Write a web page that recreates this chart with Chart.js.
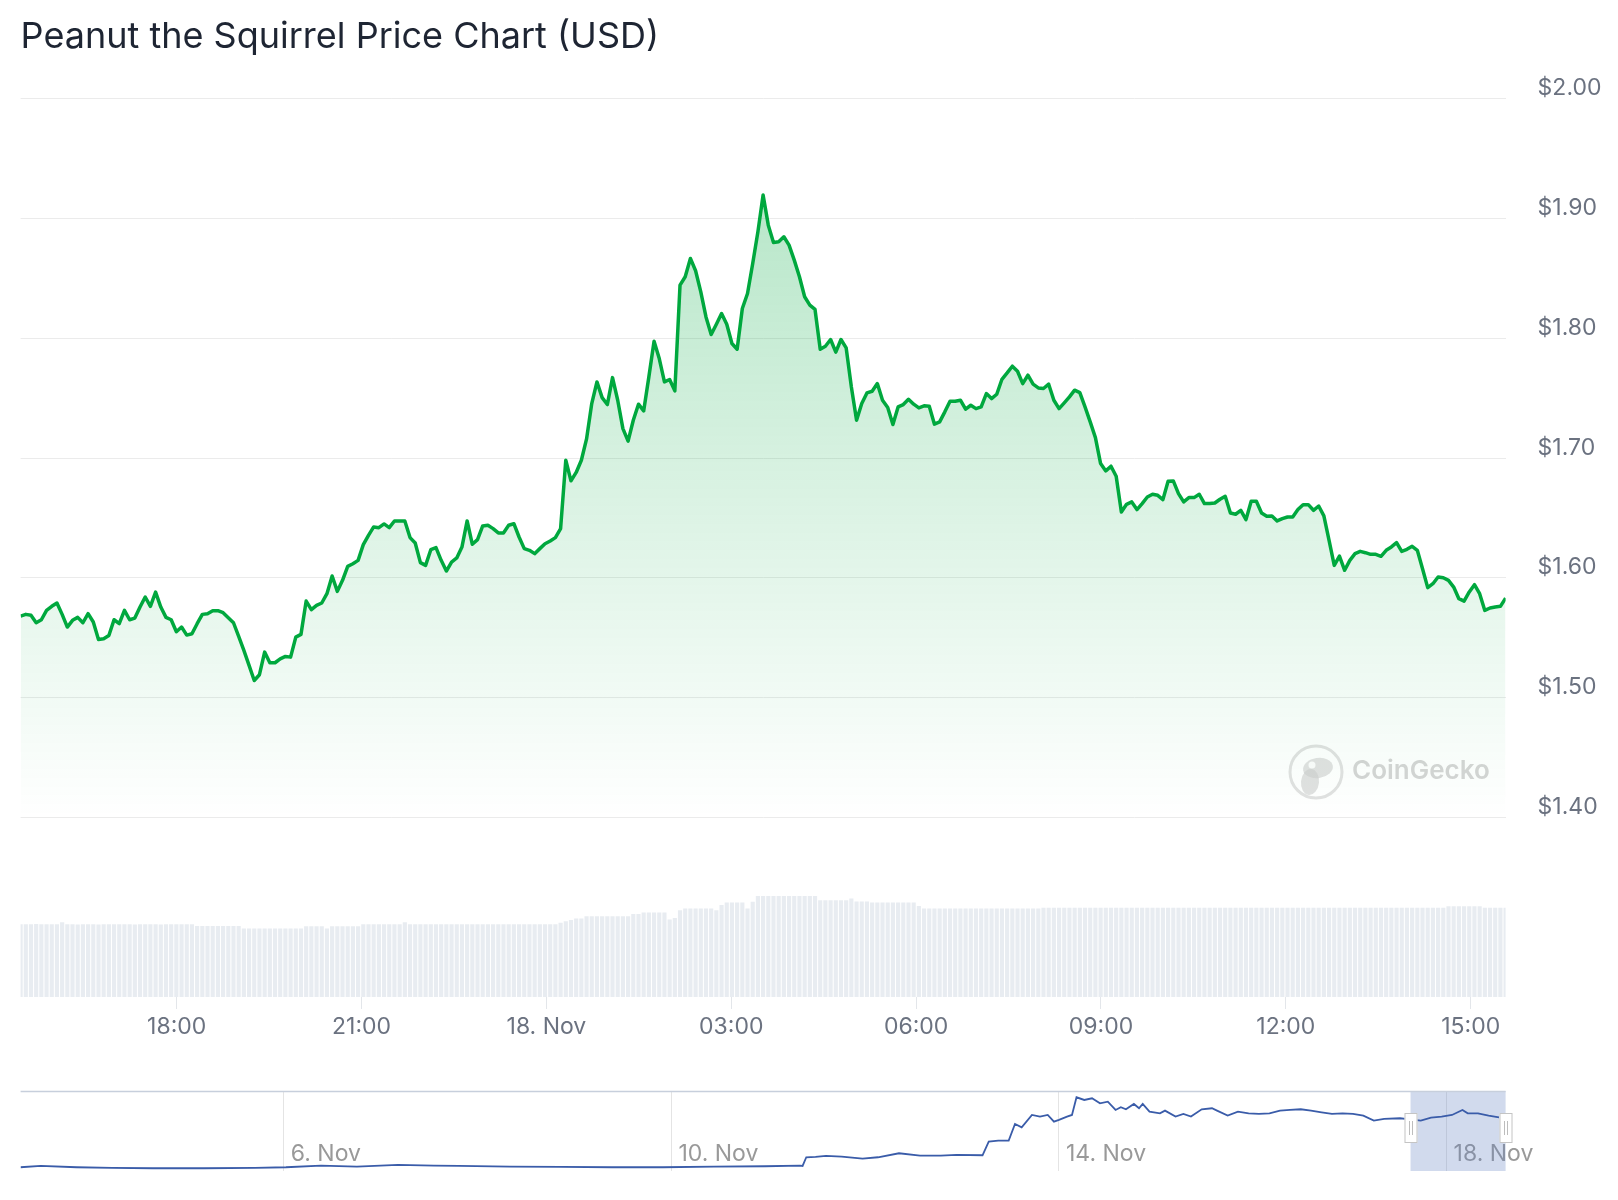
<!DOCTYPE html>
<html>
<head>
<meta charset="utf-8">
<title>Peanut the Squirrel Price Chart (USD)</title>
<script src="https://cdn.jsdelivr.net/npm/chart.js@4.4.1/dist/chart.umd.min.js"></script>
<style>
  html, body { margin: 0; padding: 0; background: #ffffff; }
  #wrap { position: relative; width: 1618px; height: 1200px; overflow: hidden; }
  #main { position: absolute; left: 0; top: 0; }
  #nav { position: absolute; left: 0; top: 1080px; }
</style>
</head>
<body>
<div id="wrap">
  <canvas id="main" width="1618" height="1080"></canvas>
  <canvas id="nav" width="1618" height="120"></canvas>
</div>
<script>
// ---------------- DATA ----------------
const chartTitle = 'Peanut the Squirrel Price Chart (USD)';

// time range of the main chart, minutes since 17 Nov 00:00 (15:28 → next day 15:34)
const startMinute = 928;
const endMinute = 2374;

// price in USD, ~5 minute samples
const prices = [
  1.5681, 1.5695, 1.5687, 1.5625, 1.5650, 1.5728, 1.5762, 1.5790, 1.5695, 1.5589,
  1.5645, 1.5670, 1.5625, 1.5701, 1.5631, 1.5486, 1.5492, 1.5519, 1.5650, 1.5617,
  1.5728, 1.5650, 1.5664, 1.5756, 1.5840, 1.5762, 1.5881, 1.5756, 1.5670, 1.5650,
  1.5550, 1.5589, 1.5522, 1.5533, 1.5617, 1.5695, 1.5701, 1.5726, 1.5726, 1.5709,
  1.5667, 1.5625, 1.5511, 1.5394, 1.5269, 1.5143, 1.5191, 1.5380, 1.5291, 1.5291,
  1.5324, 1.5344, 1.5338, 1.5505, 1.5528, 1.5806, 1.5734, 1.5770, 1.5790, 1.5868,
  1.6015, 1.5887, 1.5979, 1.6096, 1.6118, 1.6146, 1.6277, 1.6355, 1.6425, 1.6419,
  1.6450, 1.6419, 1.6475, 1.6475, 1.6475, 1.6336, 1.6291, 1.6127, 1.6104, 1.6235,
  1.6252, 1.6146, 1.6057, 1.6132, 1.6166, 1.6257, 1.6475, 1.6280, 1.6319, 1.6433,
  1.6439, 1.6411, 1.6375, 1.6375, 1.6439, 1.6452, 1.6341, 1.6244, 1.6230, 1.6202,
  1.6244, 1.6285, 1.6308, 1.6336, 1.6411,
  1.6982, 1.6810, 1.6880, 1.6982, 1.7160, 1.7455, 1.7636, 1.7505, 1.7447, 1.7672,
  1.7483, 1.7246, 1.7141, 1.7316, 1.7450, 1.7394, 1.7678, 1.7976, 1.7831, 1.7636,
  1.7656, 1.7561, 1.8444, 1.8514, 1.8667, 1.8564, 1.8388, 1.8179, 1.8032, 1.8118,
  1.8207, 1.8118, 1.7957, 1.7909, 1.8249, 1.8374, 1.8625, 1.8890, 1.9196, 1.8945,
  1.8801, 1.8806, 1.8848, 1.8778, 1.8653, 1.8514, 1.8347, 1.8277, 1.8241, 1.7909,
  1.7934, 1.7990, 1.7884, 1.7990, 1.7920, 1.7594, 1.7316, 1.7455, 1.7544, 1.7558,
  1.7622, 1.7483, 1.7422, 1.7280, 1.7427, 1.7447, 1.7491, 1.7450, 1.7419, 1.7436,
  1.7433, 1.7283, 1.7302, 1.7386, 1.7475, 1.7475, 1.7483, 1.7408, 1.7441, 1.7413,
  1.7427, 1.7539, 1.7497, 1.7533, 1.7658, 1.7711, 1.7767, 1.7725, 1.7622, 1.7692,
  1.7617, 1.7586, 1.7581, 1.7617, 1.7483, 1.7413, 1.7461, 1.7511, 1.7567, 1.7547,
  1.7427, 1.7302, 1.7171, 1.6954, 1.6893, 1.6932, 1.6848, 1.6550, 1.6614, 1.6634,
  1.6570, 1.6620, 1.6675, 1.6698, 1.6689, 1.6653, 1.6806, 1.6809, 1.6703, 1.6634,
  1.6670, 1.6670, 1.6698, 1.6620, 1.6620, 1.6625, 1.6656, 1.6681, 1.6542, 1.6531,
  1.6564, 1.6486, 1.6639, 1.6639, 1.6542, 1.6514, 1.6517, 1.6475, 1.6494, 1.6508,
  1.6508, 1.6570, 1.6611, 1.6611, 1.6564, 1.6600, 1.6517, 1.6313, 1.6104, 1.6182,
  1.6063, 1.6146, 1.6202, 1.6221, 1.6210, 1.6196, 1.6196, 1.6180, 1.6230, 1.6258,
  1.6294, 1.6221, 1.6238, 1.6263, 1.6230, 1.6076, 1.5918, 1.5951, 1.6007, 1.6001,
  1.5979, 1.5923, 1.5826, 1.5806, 1.5882, 1.5943, 1.5868, 1.5728, 1.5748, 1.5756,
  1.5762, 1.5831
];

// 24h trading volume in billions USD, one per price sample
const volumes = [
  2.43, 2.43, 2.43, 2.44, 2.43, 2.43, 2.43, 2.43, 2.50, 2.43,
  2.43, 2.42, 2.43, 2.43, 2.43, 2.42, 2.43, 2.43, 2.43, 2.43,
  2.43, 2.43, 2.42, 2.43, 2.43, 2.43, 2.43, 2.42, 2.43, 2.43,
  2.43, 2.43, 2.43, 2.43, 2.37, 2.37, 2.37, 2.37, 2.37, 2.37,
  2.37, 2.37, 2.37, 2.29, 2.29, 2.29, 2.29, 2.29, 2.29, 2.29,
  2.29, 2.29, 2.29, 2.29, 2.29, 2.36, 2.36, 2.36, 2.36, 2.29,
  2.36, 2.36, 2.36, 2.36, 2.36, 2.36, 2.43, 2.43, 2.43, 2.43,
  2.43, 2.43, 2.43, 2.43, 2.50, 2.43, 2.43, 2.43, 2.43, 2.43,
  2.43, 2.43, 2.43, 2.43, 2.43, 2.43, 2.43, 2.43, 2.43, 2.43,
  2.43, 2.43, 2.43, 2.43, 2.43, 2.43, 2.43, 2.43, 2.43, 2.43,
  2.43, 2.43, 2.43, 2.43, 2.48, 2.53, 2.57, 2.62, 2.62, 2.70,
  2.70, 2.70, 2.70, 2.70, 2.70, 2.70, 2.70, 2.70, 2.77, 2.77,
  2.82, 2.82, 2.82, 2.82, 2.82, 2.59, 2.64, 2.90, 2.96, 2.96,
  2.96, 2.96, 2.96, 2.96, 2.90, 3.07, 3.16, 3.16, 3.16, 3.16,
  2.96, 3.18, 3.37, 3.37, 3.37, 3.37, 3.37, 3.37, 3.37, 3.37,
  3.37, 3.37, 3.37, 3.37, 3.23, 3.23, 3.23, 3.23, 3.23, 3.23,
  3.29, 3.19, 3.19, 3.19, 3.16, 3.16, 3.16, 3.16, 3.16, 3.16,
  3.16, 3.16, 3.16, 3.04, 2.96, 2.96, 2.96, 2.96, 2.96, 2.96,
  2.96, 2.96, 2.96, 2.96, 2.96, 2.96, 2.96, 2.96, 2.96, 2.96,
  2.96, 2.96, 2.96, 2.96, 2.96, 2.96, 2.96, 2.98, 2.98, 2.98,
  2.98, 2.98, 2.98, 2.98, 2.98, 2.98, 2.98, 2.98, 2.98, 2.98,
  2.98, 2.98, 2.98, 2.98, 2.98, 2.98, 2.98, 2.98, 2.98, 2.98,
  2.98, 2.98, 2.98, 2.98, 2.98, 2.98, 2.98, 2.98, 2.98, 2.98,
  2.98, 2.98, 2.98, 2.98, 2.98, 2.98, 2.98, 2.98, 2.98, 2.98,
  2.98, 2.98, 2.98, 2.98, 2.98, 2.98, 2.98, 2.98, 2.98, 2.98,
  2.98, 2.98, 2.98, 2.98, 2.98, 2.98, 2.98, 2.98, 2.98, 2.98,
  2.98, 2.98, 2.98, 2.98, 2.98, 2.98, 2.98, 2.98, 2.98, 2.98,
  2.98, 2.98, 2.98, 2.98, 2.98, 3.03, 3.03, 3.03, 3.03, 3.03,
  3.03, 3.03, 2.98, 2.98, 2.98, 2.98, 2.98
];

// x-axis ticks (minutes since 17 Nov 00:00) and their labels
const timeTickValues = [1080, 1260, 1440, 1620, 1800, 1980, 2160, 2340];
const timeTickLabels = ['18:00', '21:00', '18. Nov', '03:00', '06:00', '09:00', '12:00', '15:00'];

// price axis ticks
const priceTicks = [1.40, 1.50, 1.60, 1.70, 1.80, 1.90, 2.00];

// navigator (overview) series: day of November, price USD
const navDays = [
  3.282, 3.492, 3.861, 4.227, 4.650, 5.176, 5.703, 6.023, 6.384, 6.755,
  7.178, 7.550, 7.808, 8.334, 8.860, 9.387, 9.913, 10.439, 10.966, 11.327,
  11.354, 11.392, 11.488, 11.595, 11.757, 11.973, 12.132, 12.349, 12.566, 12.780,
  12.942, 13.211, 13.275, 13.373, 13.481, 13.546, 13.615, 13.721, 13.804, 13.884,
  13.948, 14.000, 14.083, 14.134, 14.181, 14.261, 14.341, 14.423, 14.504, 14.584,
  14.638, 14.691, 14.773, 14.826, 14.864, 14.934, 15.042, 15.094, 15.203, 15.284,
  15.362, 15.473, 15.579, 15.631, 15.741, 15.847, 15.957, 16.064, 16.172, 16.281,
  16.384, 16.495, 16.601, 16.710, 16.817, 16.926, 17.034, 17.141, 17.249, 17.356,
  17.519, 17.622, 17.734, 17.839, 17.949, 18.056, 18.164, 18.218, 18.324, 18.434,
  18.541
];
const navPrices = [
  0.0994, 0.1384, 0.0994, 0.0799, 0.0701, 0.0701, 0.0799, 0.0994, 0.1481, 0.1189,
  0.1676, 0.1481, 0.1384, 0.1189, 0.1091, 0.0994, 0.0994, 0.1189, 0.1286, 0.1481,
  0.1384, 0.3918, 0.4016, 0.4308, 0.4113, 0.3528, 0.3918, 0.5088, 0.4406, 0.4406,
  0.4600, 0.4503, 0.8499, 0.8791, 0.8791, 1.3665, 1.2690, 1.6297, 1.5810, 1.6297,
  1.4347, 1.4835, 1.5810, 1.6297, 2.1462, 2.0683, 2.1170, 1.9708, 2.0196, 1.7759,
  1.8539, 1.7954, 1.9514, 1.8247, 1.9514, 1.7271, 1.6784, 1.7564, 1.5810, 1.6589,
  1.5810, 1.7954, 1.8247, 1.7564, 1.6102, 1.7271, 1.6784, 1.6589, 1.6784, 1.7564,
  1.7759, 1.7954, 1.7564, 1.7076, 1.6589, 1.6784, 1.6589, 1.6102, 1.4640, 1.5127,
  1.5322, 1.5030, 1.4640, 1.5517, 1.5810, 1.6297, 1.7759, 1.6784, 1.6784, 1.6102,
  1.5615
];
const navTickValues = [6, 10, 14, 18];
const navTickLabels = ['6. Nov', '10. Nov', '14. Nov', '18. Nov'];
const navRange = [3.284, 18.609];
const navSelection = [17.628, 18.609];

// ---------------- CHARTS ----------------
const FONT = 'Inter, "Noto Sans", "DejaVu Sans", sans-serif';
Chart.defaults.font.family = FONT;

const stepMinutes = (endMinute - startMinute) / (prices.length - 1);
const priceData = prices.map((p, i) => ({ x: startMinute + i * stepMinutes, y: p }));
const volumeData = volumes.map((v, i) => ({ x: startMinute + i * stepMinutes, y: v }));

const watermark = {
  id: 'watermark',
  beforeDatasetsDraw(chart) {
    const ctx = chart.ctx;
    const cx = 1316, cy = 772, r = 26;
    ctx.save();
    ctx.fillStyle = 'rgba(255,255,255,0.55)';
    ctx.strokeStyle = 'rgba(200,200,200,0.55)';
    ctx.lineWidth = 3;
    ctx.beginPath(); ctx.arc(cx, cy, r, 0, Math.PI * 2); ctx.fill(); ctx.stroke();
    ctx.fillStyle = 'rgba(205,205,205,0.6)';
    ctx.beginPath();
    ctx.ellipse(cx + 2, cy - 4, 15, 10, -0.15, 0, Math.PI * 2);
    ctx.fill();
    ctx.beginPath();
    ctx.ellipse(cx - 6, cy + 10, 9, 13, 0.1, 0, Math.PI * 2);
    ctx.fill();
    ctx.fillStyle = 'rgba(255,255,255,0.9)';
    ctx.beginPath(); ctx.arc(cx - 4, cy - 7, 3.5, 0, Math.PI * 2); ctx.fill();
    ctx.font = '600 26px ' + FONT;
    ctx.fillStyle = 'rgba(185,185,185,0.6)';
    ctx.textBaseline = 'middle';
    ctx.textAlign = 'left';
    ctx.fillText('CoinGecko', 1352, 771);
    ctx.restore();
  }
};

new Chart(document.getElementById('main'), {
  type: 'line',
  data: {
    datasets: [
      {
        type: 'line',
        label: 'Price',
        data: priceData,
        yAxisID: 'y',
        borderColor: '#00a83e',
        borderWidth: 3.5,
        pointRadius: 0,
        tension: 0,
        borderJoinStyle: 'round',
        fill: { value: 1.4 },
        backgroundColor: (c) => {
          const chart = c.chart;
          const area = chart.chartArea;
          if (!area) return 'rgba(0,168,62,0.15)';
          const yb = chart.scales.y.getPixelForValue(1.4);
          const g = chart.ctx.createLinearGradient(0, area.top, 0, yb);
          g.addColorStop(0, 'rgba(0,168,62,0.32)');
          g.addColorStop(1, 'rgba(0,168,62,0.0)');
          return g;
        },
        order: 1
      },
      {
        type: 'bar',
        label: 'Volume',
        data: volumeData,
        yAxisID: 'yVol',
        backgroundColor: '#e8ecf1',
        barPercentage: 0.8,
        categoryPercentage: 1.0,
        order: 2
      }
    ]
  },
  options: {
    responsive: false,
    animation: false,
    devicePixelRatio: 1,
    layout: { padding: { left: 20.6, right: 0, top: 0, bottom: 0 } },
    plugins: {
      legend: { display: false },
      tooltip: { enabled: false },
      title: {
        display: true,
        text: chartTitle,
        align: 'start',
        color: '#1e2533',
        font: { size: 36, weight: '400', family: FONT, lineHeight: 1.2 },
        padding: { top: 15.9, bottom: 39.7 }
      }
    },
    scales: {
      x: {
        type: 'linear',
        min: startMinute,
        max: endMinute,
        offset: false,
        afterBuildTicks: (s) => { s.ticks = timeTickValues.map(v => ({ value: v })); },
        afterFit: (s) => { s.height = 83; },
        ticks: {
          autoSkip: false,
          maxRotation: 0,
          padding: 4,
          color: '#6b7280',
          font: { size: 23, family: FONT },
          callback: (v) => { const k = timeTickValues.indexOf(v); return k >= 0 ? timeTickLabels[k] : ''; }
        },
        grid: { offset: false, drawOnChartArea: false, drawTicks: true, tickLength: 12, color: '#e3e6ea' },
        border: { display: false }
      },
      y: {
        type: 'linear',
        position: 'right',
        min: 1.25,
        max: 2.0,
        afterBuildTicks: (s) => { s.ticks = priceTicks.map(v => ({ value: v })); },
        afterFit: (s) => { s.width = 112.4; },
        ticks: {
          padding: 32,
          labelOffset: -10.5,
          color: '#6b7280',
          font: { size: 23, family: FONT },
          callback: (v) => '$' + Number(v).toFixed(2)
        },
        grid: { color: '#ebebeb', drawTicks: false, lineWidth: 1 },
        border: { display: false }
      },
      yVol: {
        type: 'linear',
        display: false,
        min: 0,
        max: 30
      }
    }
  },
  plugins: [watermark]
});

const navDecor = {
  id: 'navDecor',
  beforeDatasetsDraw(chart) {
    const { ctx, chartArea, scales } = chart;
    const l = scales.x.getPixelForValue(navSelection[0]);
    const r = scales.x.getPixelForValue(navSelection[1]);
    ctx.save();
    ctx.fillStyle = 'rgba(102,133,194,0.3)';
    ctx.fillRect(l, chartArea.top, r - l, chartArea.bottom - chartArea.top);
    ctx.strokeStyle = '#c7cfdc';
    ctx.lineWidth = 1.5;
    ctx.beginPath();
    ctx.moveTo(chartArea.left, chartArea.top + 0.5);
    ctx.lineTo(chartArea.right, chartArea.top + 0.5);
    ctx.stroke();
    ctx.restore();
  },
  afterDatasetsDraw(chart) {
    const { ctx, chartArea, scales } = chart;
    const mid = (chartArea.top + chartArea.bottom) / 2 - 3;
    navSelection.forEach(v => {
      const px = Math.round(scales.x.getPixelForValue(v));
      const w = 13, h = 30;
      const x0 = px - w / 2, y0 = mid - h / 2;
      ctx.save();
      ctx.fillStyle = '#ffffff';
      ctx.strokeStyle = '#c4c4c4';
      ctx.lineWidth = 1;
      ctx.fillRect(x0, y0, w, h);
      ctx.strokeRect(x0 + 0.5, y0 + 0.5, w - 1, h - 1);
      ctx.strokeStyle = '#bdbdbd';
      ctx.beginPath();
      ctx.moveTo(px - 1.5, y0 + 8); ctx.lineTo(px - 1.5, y0 + h - 8);
      ctx.moveTo(px + 1.5, y0 + 8); ctx.lineTo(px + 1.5, y0 + h - 8);
      ctx.stroke();
      ctx.restore();
    });
  }
};

new Chart(document.getElementById('nav'), {
  type: 'line',
  data: {
    datasets: [{
      label: 'Overview',
      data: navDays.map((d, i) => ({ x: d, y: navPrices[i] })),
      borderColor: '#3a5ca9',
      borderWidth: 1.8,
      pointRadius: 0,
      tension: 0,
      fill: false
    }]
  },
  options: {
    responsive: false,
    animation: false,
    devicePixelRatio: 1,
    layout: { padding: { left: 20.6, right: 112.4, top: 11, bottom: 0 } },
    plugins: { legend: { display: false }, tooltip: { enabled: false } },
    scales: {
      x: {
        type: 'linear',
        min: navRange[0],
        max: navRange[1],
        afterBuildTicks: (s) => { s.ticks = navTickValues.map(v => ({ value: v })); },
        afterFit: (s) => { s.height = 29; },
        ticks: {
          autoSkip: false,
          maxRotation: 0,
          mirror: true,
          align: 'start',
          labelOffset: 7,
          padding: 3.2,
          color: '#999999',
          font: { size: 23, family: FONT },
          callback: (v) => { const k = navTickValues.indexOf(v); return k >= 0 ? navTickLabels[k] : ''; }
        },
        grid: { drawOnChartArea: true, drawTicks: false, color: '#e4e4e4' },
        border: { display: false }
      },
      y: { display: false, min: -0.01, max: 2.33 }
    }
  },
  plugins: [navDecor]
});
</script>
</body>
</html>
